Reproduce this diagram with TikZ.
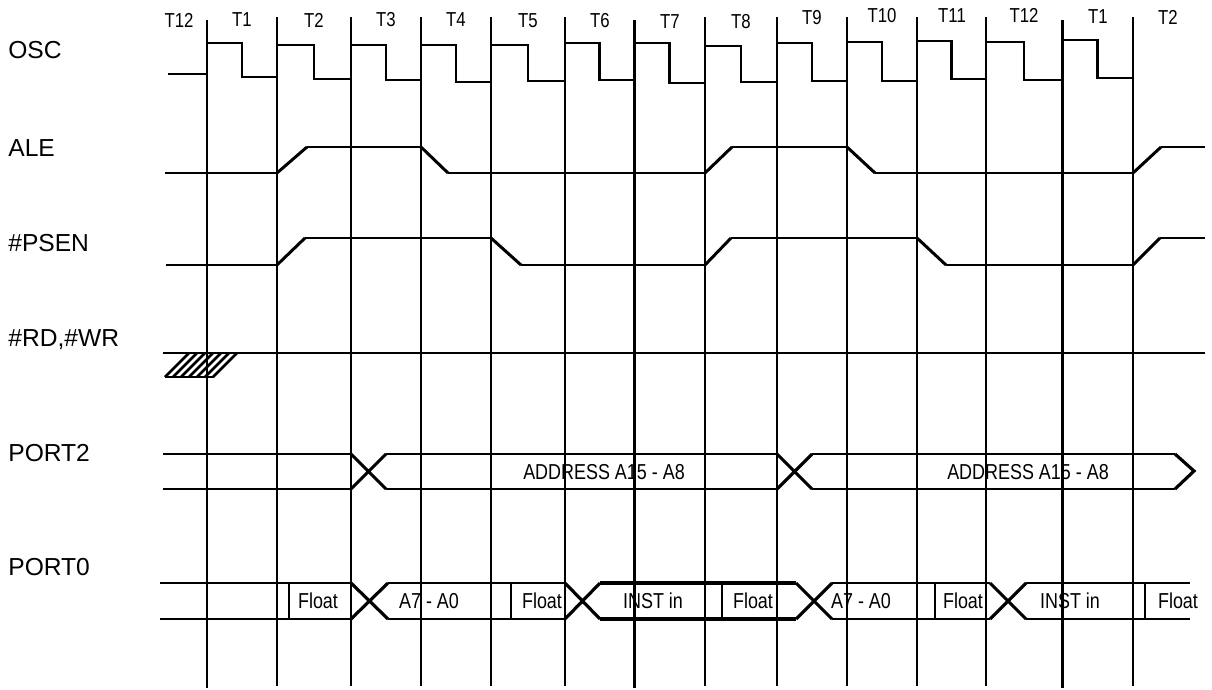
\documentclass[tikz,border=0pt]{standalone}
\usepackage{fontspec}
\setmainfont{Liberation Sans}
\newfontfamily\narrowsf[FakeStretch=0.83]{Liberation Sans}
\usepackage{tikz}

\begin{document}
\begin{tikzpicture}[x=0.02cm,y=-0.02cm,
  vthin/.style={line width=0.7pt},
  vthick/.style={line width=1.7pt},
  lvl/.style={line width=0.75pt},
  ramp/.style={line width=1.7pt},
  xover/.style={line width=1.8pt},
  osc/.style={line width=1.5pt},
  siglbl/.style={font=\fontsize{14}{16}\selectfont,anchor=west,inner sep=0pt},
  tlbl/.style={font=\narrowsf\fontsize{11.5}{13}\selectfont,inner sep=0pt},
  buslbl/.style={font=\narrowsf\fontsize{12.3}{14}\selectfont,inner sep=0pt}]
  \useasboundingbox (0,0) rectangle (1212,689);

  % time grid
  \foreach \x in {277,351,421,491,565,705,777,847,917,986,1133}
    \draw[vthin] (\x,17) -- (\x,686);
  \foreach \x in {207,634,1062}
    \draw[vthick] (\x,20) -- (\x,688);
  \foreach \lbl/\x/\y [count=\i] in {T12/179/20,T1/242/20,T2/314/20,T3/386/20,
      T4/456/20,T5/528/21,T6/600/21,T7/670/22,T8/741/22,T9/812/18,T10/882/16,
      T11/952/16,T12/1024/15,T1/1098/17,T2/1168/17}
    \node[tlbl] (t\i) at (\x,\y) {\lbl};

  % signal names
  \node[siglbl] (osc) at (8,50) {OSC};
  \node[siglbl] (ale) at (8,148) {ALE};
  \node[siglbl] (psen) at (8,243) {\#PSEN};
  \node[siglbl] (rdwr) at (8,340) {\#RD,\#WR};
  \node[siglbl] (port2) at (8,453) {PORT2};
  \node[siglbl] (port0) at (8,567) {PORT0};

  % OSC
  \draw[osc] (168,74) -- (207,74);
  \foreach \a/\b/\p/\h/\l in {207/277/74/43/77,277/351/77/45/79,351/421/79/45/80,
      421/491/80/45/82,491/565/82/45/81,565/634/81/43/80,634/705/80/43/83,
      705/777/83/46/82,777/847/82/43/81,847/917/81/42/81,917/986/81/41/79,
      986/1062/79/42/80,1062/1133/80/40/78}
    \draw[osc] (\a,\p) -- (\a,\h) -- ({(\a+\b)/2},\h) -- ({(\a+\b)/2},\l) -- (\b,\l);

  % ALE
  \draw[lvl] (165,173) -- (277,173);
  \draw[ramp] (277,173) -- (307,147);
  \draw[lvl] (307,147) -- (421,147);
  \draw[ramp] (421,147) -- (448,173);
  \draw[lvl] (448,173) -- (705,173);
  \draw[ramp] (705,173) -- (732,147);
  \draw[lvl] (732,147) -- (847,147);
  \draw[ramp] (847,147) -- (875,173);
  \draw[lvl] (875,173) -- (1133,173);
  \draw[ramp] (1133,173) -- (1161,147);
  \draw[lvl] (1161,147) -- (1205,147);

  % #PSEN
  \draw[lvl] (166,265) -- (277,265);
  \draw[ramp] (277,265) -- (305,238);
  \draw[lvl] (305,238) -- (491,238);
  \draw[ramp] (491,238) -- (521,265);
  \draw[lvl] (521,265) -- (705,265);
  \draw[ramp] (705,265) -- (731,238);
  \draw[lvl] (731,238) -- (917,238);
  \draw[ramp] (917,238) -- (946,265);
  \draw[lvl] (946,265) -- (1133,265);
  \draw[ramp] (1133,265) -- (1160,238);
  \draw[lvl] (1160,238) -- (1205,238);

  % #RD,#WR
  \draw[lvl] (163,353) -- (1205,353);
  \foreach \x in {165,173,...,214}
    \draw[line width=1.5pt] (\x,377) -- ({\x+24},353);
  \draw[line width=1.1pt] (165,377) -- (214,377);

  % PORT2
  \draw[lvl] (163,454) -- (351,454) (163,489) -- (351,489);
  \draw[xover] (351,454) -- (386,489) (351,489) -- (386,454);
  \draw[lvl] (386,454) -- (777,454) (386,489) -- (777,489);
  \draw[xover] (777,454) -- (812,489) (777,489) -- (812,454);
  \draw[lvl] (812,454) -- (1175,454) (812,489) -- (1175,489);
  \draw[xover] (1175,454) -- (1194,471) -- (1175,489);
  \node[buslbl] (addr1) at (604,472) {ADDRESS A15 - A8};
  \node[buslbl] (addr2) at (1028,472) {ADDRESS A15 - A8};

  % PORT0
  \draw[lvl] (160,583) -- (351,583) (160,619) -- (351,619);
  \draw[xover] (351,583) -- (388,619) (351,619) -- (388,583);
  \draw[lvl] (388,583) -- (565,583) (388,619) -- (565,619);
  \draw[xover] (565,583) -- (600,619) (565,619) -- (600,583);
  \draw[xover] (600,583) -- (796,583) (600,619) -- (796,619);
  \draw[xover] (796,583) -- (832,619) (796,619) -- (832,583);
  \draw[lvl] (832,583) -- (990,583) (832,619) -- (990,619);
  \draw[xover] (990,583) -- (1026,619) (990,619) -- (1026,583);
  \draw[lvl] (1026,583) -- (1190,583) (1026,619) -- (1190,619);
  \foreach \x in {289,511,722,935,1145}
    \draw[lvl] (\x,583) -- (\x,619);
  \node[buslbl] (fl1) at (318,601) {Float};
  \node[buslbl] (adl1) at (429,601) {A7 - A0};
  \node[buslbl] (fl2) at (542,601) {Float};
  \node[buslbl] (inst1) at (653,601) {INST in};
  \node[buslbl] (fl3) at (753,601) {Float};
  \node[buslbl] (adl2) at (861,601) {A7 - A0};
  \node[buslbl] (fl4) at (963,601) {Float};
  \node[buslbl] (inst2) at (1070,601) {INST in};
  \node[buslbl] (fl5) at (1178,601) {Float};
\end{tikzpicture}
\end{document}
